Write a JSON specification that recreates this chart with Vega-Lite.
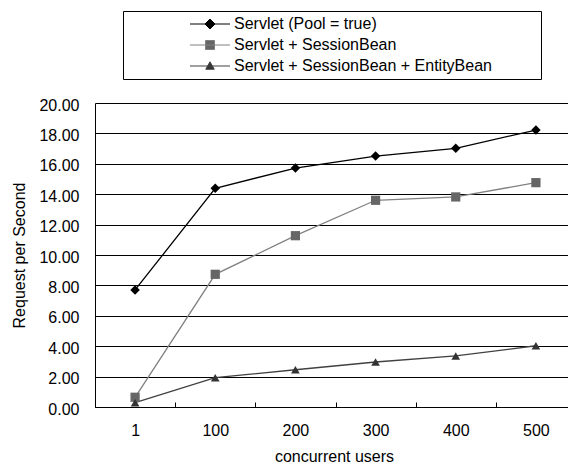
{
  "$schema": "https://vega.github.io/schema/vega-lite/v6.json",
  "autosize": "none",
  "padding": {"left": 95, "top": 103, "right": 0, "bottom": 57},
  "width": 473,
  "height": 304,
  "config": {
    "font": "Liberation Sans",
    "view": {"stroke": null},
    "axis": {"labelFont": "Liberation Sans", "titleFont": "Liberation Sans", "labelFontSize": 16, "titleFontSize": 16, "labelColor": "#000", "titleColor": "#000", "titleFontWeight": "normal", "domainColor": "#000", "tickColor": "#000"}
  },
  "data": {
    "values": [
      {"users": "1", "series": "Servlet (Pool = true)", "rps": 7.7},
      {"users": "100", "series": "Servlet (Pool = true)", "rps": 14.39},
      {"users": "200", "series": "Servlet (Pool = true)", "rps": 15.72},
      {"users": "300", "series": "Servlet (Pool = true)", "rps": 16.51},
      {"users": "400", "series": "Servlet (Pool = true)", "rps": 17.02},
      {"users": "500", "series": "Servlet (Pool = true)", "rps": 18.22},
      {"users": "1", "series": "Servlet + SessionBean", "rps": 0.64},
      {"users": "100", "series": "Servlet + SessionBean", "rps": 8.73},
      {"users": "200", "series": "Servlet + SessionBean", "rps": 11.27},
      {"users": "300", "series": "Servlet + SessionBean", "rps": 13.6},
      {"users": "400", "series": "Servlet + SessionBean", "rps": 13.82},
      {"users": "500", "series": "Servlet + SessionBean", "rps": 14.76},
      {"users": "1", "series": "Servlet + SessionBean + EntityBean", "rps": 0.28},
      {"users": "100", "series": "Servlet + SessionBean + EntityBean", "rps": 1.93},
      {"users": "200", "series": "Servlet + SessionBean + EntityBean", "rps": 2.45},
      {"users": "300", "series": "Servlet + SessionBean + EntityBean", "rps": 2.96},
      {"users": "400", "series": "Servlet + SessionBean + EntityBean", "rps": 3.36},
      {"users": "500", "series": "Servlet + SessionBean + EntityBean", "rps": 4.03}
    ]
  },
  "encoding": {
    "x": {
      "field": "users", "type": "ordinal", "sort": ["1", "100", "200", "300", "400", "500"],
      "scale": {"type": "band", "range": [0, 481], "paddingInner": 0, "paddingOuter": 0},
      "axis": {"title": "concurrent users", "labelAngle": 0, "tickBand": "extent", "tickSize": -5, "labelPadding": 33, "labelBaseline": "alphabetic", "grid": false, "titleY": 54.5, "titleX": 239, "titleBaseline": "alphabetic", "domainWidth": 1}
    },
    "y": {
      "field": "rps", "type": "quantitative",
      "scale": {"domain": [0, 20], "nice": false},
      "axis": {"title": "Request per Second", "values": [0, 2, 4, 6, 8, 10, 12, 14, 16, 18, 20], "format": ".2f", "ticks": false, "labelPadding": 16, "labelOffset": 2, "grid": true, "gridColor": "#000", "gridWidth": 1, "gridOpacity": 1, "titleX": -76, "titleY": 152, "titleAngle": -90, "titleBaseline": "middle", "titleAlign": "center"}
    }
  },
  "layer": [
    {
      "mark": {"type": "line", "strokeWidth": 1.3},
      "encoding": {
        "color": {
          "field": "series", "type": "nominal",
          "scale": {"domain": ["Servlet (Pool = true)", "Servlet + SessionBean", "Servlet + SessionBean + EntityBean"], "range": ["#000000", "#808080", "#404040"]},
          "legend": {
            "orient": "none", "legendX": 28, "legendY": -92,
            "title": " ", "titleOrient": "right", "titlePadding": 44, "titleFontSize": 16,
            "labelFont": "Liberation Sans", "labelFontSize": 16, "labelColor": "#000", "labelLimit": 400,
            "symbolSize": 100, "symbolStrokeWidth": 1, "symbolOffset": 74, "labelOffset": 16,
            "padding": 5, "rowPadding": 5, "strokeColor": "#000", "fillColor": "#fff",
            "encode": {
              "symbols": {
                "update": {
                  "shape": {"signal": "datum.value === 'Servlet (Pool = true)' ? 'M-4,0L4,0M0,-1L1,0L0,1L-1,0Z' : (datum.value === 'Servlet + SessionBean' ? 'M-4,0L4,0M-0.9,-0.9L0.9,-0.9L0.9,0.9L-0.9,0.9Z' : 'M-4,0L4,0M0,-0.85L0.85,0.65L-0.85,0.65Z')"},
                  "fill": {"signal": "datum.value === 'Servlet (Pool = true)' ? '#000000' : (datum.value === 'Servlet + SessionBean' ? '#666666' : '#333333')"},
                  "stroke": {"signal": "datum.value === 'Servlet (Pool = true)' ? '#000000' : (datum.value === 'Servlet + SessionBean' ? '#808080' : '#404040')"},
                  "strokeWidth": {"value": 1},
                  "opacity": {"value": 1}
                }
              }
            }
          }
        }
      }
    },
    {
      "transform": [{"filter": "datum.series === 'Servlet (Pool = true)'"}],
      "mark": {"type": "point", "filled": true, "opacity": 1, "shape": "diamond", "color": "#000000", "size": 90}
    },
    {
      "transform": [{"filter": "datum.series === 'Servlet + SessionBean'"}],
      "mark": {"type": "point", "filled": true, "opacity": 1, "shape": "square", "color": "#666666", "size": 85}
    },
    {
      "transform": [{"filter": "datum.series === 'Servlet + SessionBean + EntityBean'"}],
      "mark": {"type": "point", "filled": true, "opacity": 1, "shape": "triangle-up", "color": "#333333", "size": 75}
    }
  ]
}
